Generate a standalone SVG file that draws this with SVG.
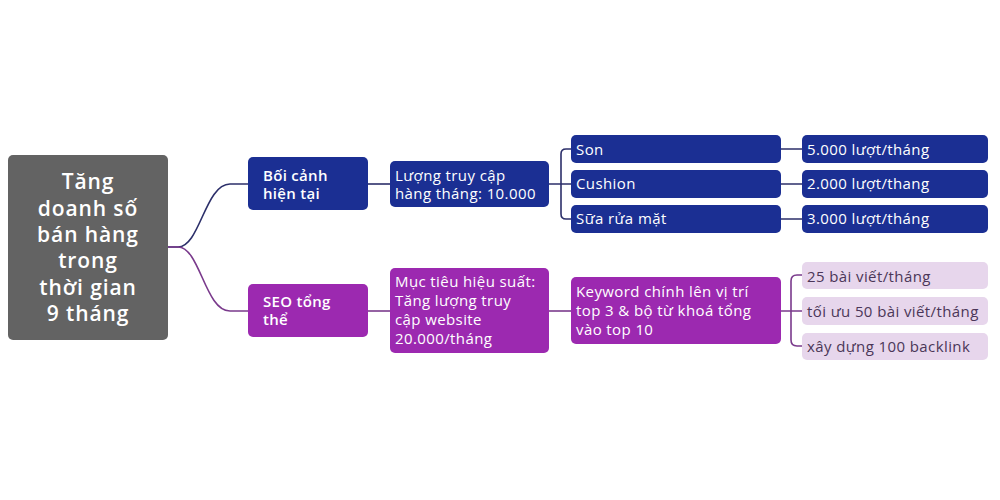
<svg xmlns="http://www.w3.org/2000/svg" width="1000" height="500" viewBox="0 0 1000 500">
<style>
text{font-family:"Open Sans","Noto Sans","DejaVu Sans",sans-serif;font-size:15px;letter-spacing:0.4px;fill:#fff}
.root{fill:#636363}
.blue{fill:#1b2f93}
.purple{fill:#9c29b0}
.light{fill:#e7d6ec}
.lt{fill:#4b3658}
.b{font-weight:600;letter-spacing:0.3px}
.cb{stroke:#2c2f6a;stroke-width:1.6;fill:none}
.cp{stroke:#7a3a8c;stroke-width:1.6;fill:none}
.ct{font-size:21px;font-weight:600;letter-spacing:0.9px;text-anchor:middle}
</style>
<rect width="1000" height="500" fill="#fff"/>
<g id="connectors">
<path class="cb" d="M168 247 H178 C200 247 205 184 230 184 H248"/>
<path class="cp" d="M168 247 H178 C200 247 205 311 230 311 H248"/>
<path class="cb" d="M368 184 H390"/>
<path class="cb" d="M549 184 H571 M571 149 H566 Q561 149 561 154 V214 Q561 219 566 219 H571"/>
<path class="cb" d="M781 149 H802 M781 184 H802 M781 219 H802"/>
<path class="cp" d="M368 311 H390"/>
<path class="cp" d="M549 311 H571"/>
<path class="cp" d="M781 311 H802 M802 275 H797 Q791 275 791 281 V340 Q791 346 797 346 H802"/>
</g>
<g id="root">
<rect class="root" x="8" y="155" width="160" height="185" rx="5"/>
<text class="ct" x="88" y="189">Tăng</text>
<text class="ct" x="88" y="215.5">doanh số</text>
<text class="ct" x="88" y="242">bán hàng</text>
<text class="ct" x="88" y="268">trong</text>
<text class="ct" x="88" y="294.5">thời gian</text>
<text class="ct" x="88" y="321">9 tháng</text>
</g>
<g id="boi-canh">
<rect class="blue" x="248" y="157" width="120" height="53" rx="5"/>
<text class="b" x="263" y="181">Bối cảnh</text>
<text class="b" x="263" y="199">hiện tại</text>
</g>
<g id="seo">
<rect class="purple" x="248" y="284" width="120" height="53" rx="5"/>
<text class="b" x="263" y="307">SEO tổng</text>
<text class="b" x="263" y="325">thể</text>
</g>
<g id="luong-truy-cap">
<rect class="blue" x="390" y="161" width="159" height="46" rx="5"/>
<text x="395" y="181">Lượng truy cập</text>
<text x="395" y="199">hàng tháng: 10.000</text>
</g>
<g id="son">
<rect class="blue" x="571" y="135" width="210" height="28" rx="5"/>
<text x="576" y="155">Son</text>
</g>
<g id="cushion">
<rect class="blue" x="571" y="170" width="210" height="28" rx="5"/>
<text x="576" y="189">Cushion</text>
</g>
<g id="sua-rua-mat">
<rect class="blue" x="571" y="205" width="210" height="28" rx="5"/>
<text x="576" y="224">Sữa rửa mặt</text>
</g>
<g id="son-luot">
<rect class="blue" x="802" y="135" width="186" height="28" rx="5"/>
<text x="807" y="155">5.000 lượt/tháng</text>
</g>
<g id="cushion-luot">
<rect class="blue" x="802" y="170" width="186" height="28" rx="5"/>
<text x="807" y="189">2.000 lượt/thang</text>
</g>
<g id="sua-luot">
<rect class="blue" x="802" y="205" width="186" height="28" rx="5"/>
<text x="807" y="224">3.000 lượt/tháng</text>
</g>
<g id="muc-tieu">
<rect class="purple" x="390" y="268" width="159" height="85" rx="5"/>
<text x="395" y="287">Mục tiêu hiệu suất:</text>
<text x="395" y="306">Tăng lượng truy</text>
<text x="395" y="325">cập website</text>
<text x="395" y="344">20.000/tháng</text>
</g>
<g id="keyword">
<rect class="purple" x="571" y="277" width="210" height="67" rx="5"/>
<text x="576" y="297">Keyword chính lên vị trí</text>
<text x="576" y="316">top 3 &amp; bộ từ khoá tổng</text>
<text x="576" y="335">vào top 10</text>
</g>
<g id="bai-viet">
<rect class="light" x="802" y="262" width="186" height="27" rx="5"/>
<text class="lt" x="807" y="282">25 bài viết/tháng</text>
</g>
<g id="toi-uu">
<rect class="light" x="802" y="297" width="186" height="28" rx="5"/>
<text class="lt" x="807" y="317">tối ưu 50 bài viết/tháng</text>
</g>
<g id="backlink">
<rect class="light" x="802" y="333" width="186" height="27" rx="5"/>
<text class="lt" x="807" y="352">xây dựng 100 backlink</text>
</g>
</svg>
